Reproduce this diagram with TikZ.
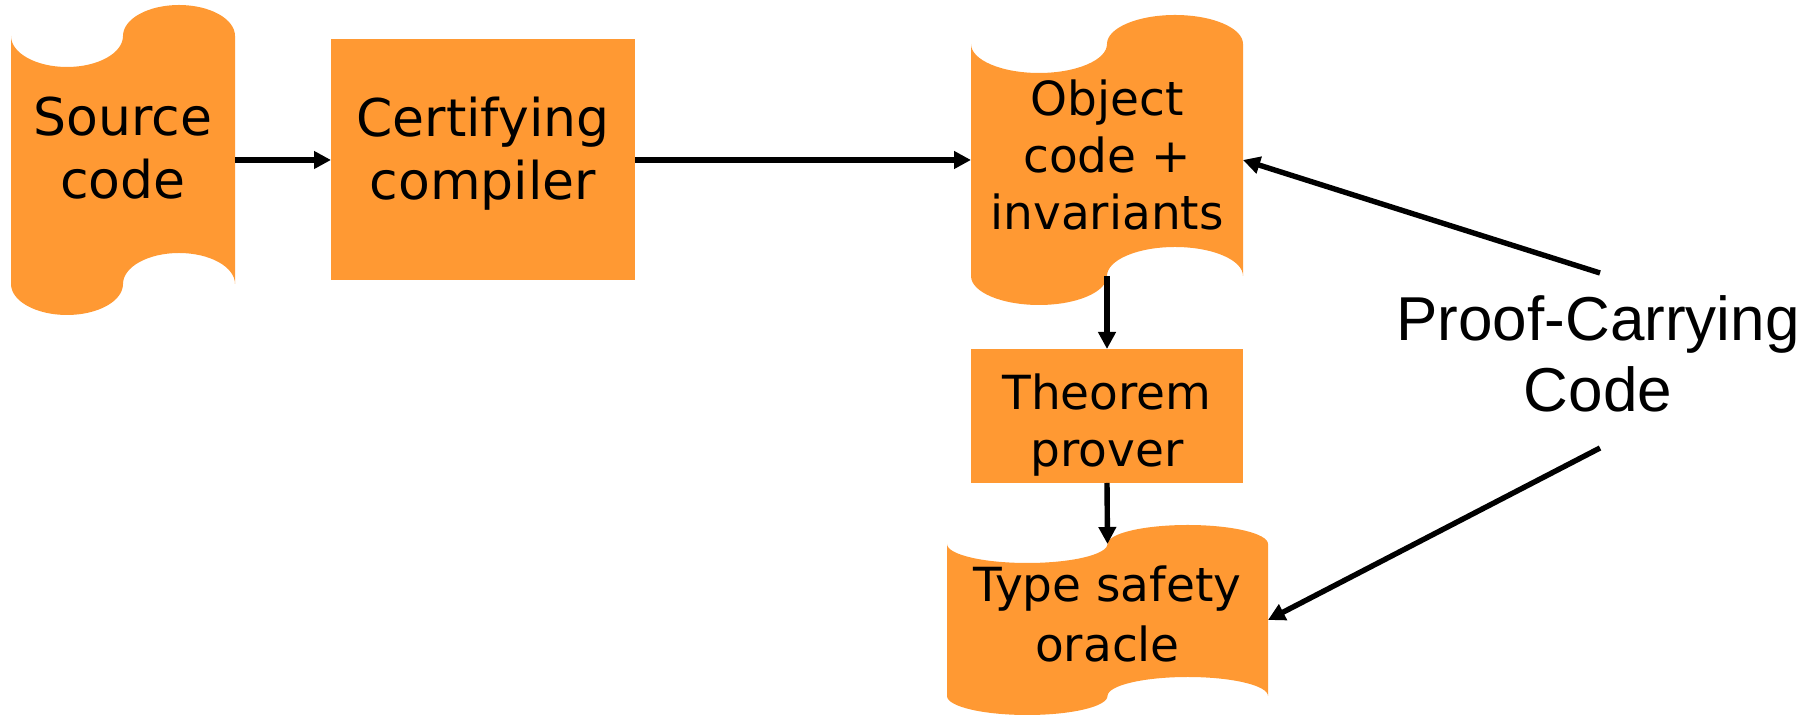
\documentclass[tikz,border=0pt]{standalone}
\usepackage{fontspec}
\setmainfont{DejaVu Sans}
\newfontfamily\pccfont{Liberation Sans}
\usetikzlibrary{arrows.meta}
\definecolor{tapeorange}{RGB}{255,153,51}

\begin{document}
\begin{tikzpicture}[x=0.5pt,y=0.5pt,
  box/.style={inner sep=0pt, outer sep=0pt, draw=none},
  boxfill/.style={box, fill=tapeorange},
  tapefill/.style={fill=tapeorange, draw=none},
  bigtext/.style={font=\fontsize{26}{31.5}\selectfont, align=center, inner sep=0pt},
  smalltext/.style={font=\fontsize{23.5}{28.5}\selectfont, align=center, inner sep=0pt},
  pcctext/.style={font=\pccfont\fontsize{31}{35.5}\selectfont, align=center, inner sep=0pt},
  flow/.style={line width=2.7pt, -{Triangle[length=8.5pt,width=8.5pt]}}
]
\useasboundingbox (0,0) rectangle (1815,716);

% punched-tape outlines: top edge dips then rises, bottom edge rises then dips
\fill[tapefill] (11,680)
  arc[start angle=180,end angle=360,x radius=56,y radius=31]
  arc[start angle=180,end angle=0,x radius=56,y radius=31]
  -- (235,432)
  arc[start angle=0,end angle=180,x radius=56,y radius=31]
  arc[start angle=0,end angle=-180,x radius=56,y radius=31]
  -- cycle;
\fill[tapefill] (971,672)
  arc[start angle=180,end angle=360,x radius=68,y radius=29]
  arc[start angle=180,end angle=0,x radius=68,y radius=29]
  -- (1243,440)
  arc[start angle=0,end angle=180,x radius=68,y radius=29]
  arc[start angle=0,end angle=-180,x radius=68,y radius=29]
  -- cycle;
\fill[tapefill] (947,172)
  arc[start angle=180,end angle=360,x radius=80.25,y radius=19]
  arc[start angle=180,end angle=0,x radius=80.25,y radius=19]
  -- (1268,20)
  arc[start angle=0,end angle=180,x radius=80.25,y radius=19]
  arc[start angle=0,end angle=-180,x radius=80.25,y radius=19]
  -- cycle;

% outlines used for connecting
\node[box, minimum width=112pt, minimum height=124pt] (src) at (123,556) {};
\node[box, minimum width=136pt, minimum height=116pt] (obj) at (1107,556) {};
\node[box, minimum width=160.5pt, minimum height=76pt] (orc) at (1107.5,96) {};

% plain boxes
\node[boxfill, minimum width=152pt, minimum height=120.5pt] (comp) at (483,556) {};
\node[boxfill, minimum width=136pt, minimum height=67pt] (thm) at (1107,300) {};

% labels
\node[bigtext] (srctext) at (123,568) {Source\\code};
\node[bigtext] (comptext) at (483,562) {Certifying\\compiler};
\node[smalltext] (objtext) at (1107,561.5) {Object\\code +\\invariants};
\node[smalltext] (thmtext) at (1107,290.5) {Theorem\\prover};
\node[smalltext, font=\fontsize{23.5}{30}\selectfont] (orctext) at (1107.5,102) {Type safety\\oracle};
\node[pcctext] (pcc) at (1598,362) {Proof-Carrying\\Code};

% connectors
\coordinate (pccup) at (1600,443);
\coordinate (pccdown) at (1600,268);
\draw[flow] (src.east) -- (comp.west);
\draw[flow] (comp.east) -- (obj.west);
\draw[flow] (obj.south) -- (thm.north);
\draw[flow] (thm.south) -- (orc.north);
\draw[flow] (pccup) -- (obj.east);
\draw[flow] (pccdown) -- (orc.east);
\end{tikzpicture}
\end{document}
